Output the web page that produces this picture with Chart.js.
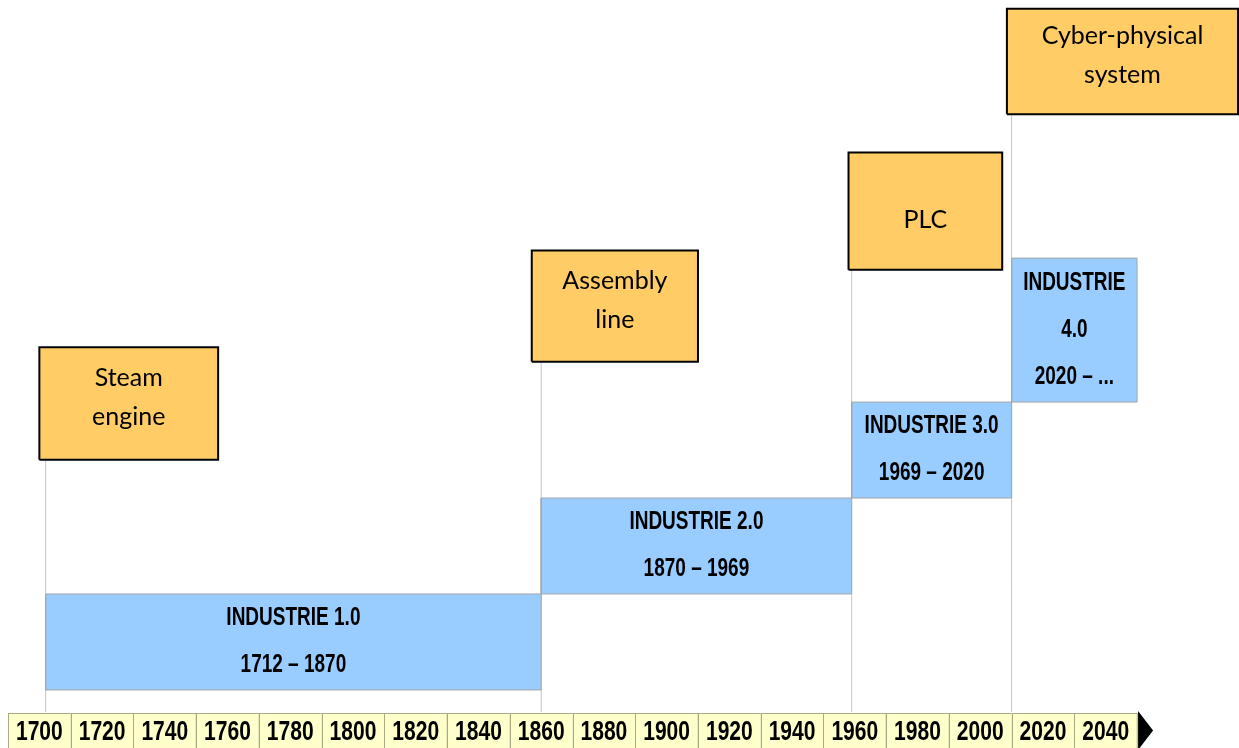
<!DOCTYPE html>
<html>
<head>
<meta charset="utf-8">
<script src="https://cdn.jsdelivr.net/npm/chart.js@4.4.1/dist/chart.umd.min.js"></script>
<style>
  html, body { margin: 0; padding: 0; background: #fff; }
</style>
</head>
<body>
<canvas id="chart" width="1239" height="748"></canvas>
<script>
// timeline axis (each box covers 20 years)
const yearTicks = [1700, 1720, 1740, 1760, 1780, 1800, 1820, 1840, 1860, 1880, 1900, 1920, 1940, 1960, 1980, 2000, 2020, 2040];
const tickStep = 20;

// industrial revolutions (blue steps)
const phaseLabels = [
    ['INDUSTRIE 1.0', '1712 – 1870'],
    ['INDUSTRIE 2.0', '1870 – 1969'],
    ['INDUSTRIE 3.0', '1969 – 2020'],
    ['INDUSTRIE', '4.0', '2020 – ...']
];
const phaseStart = [1712, 1870, 1969, 2020];
const phaseEnd = [1870, 1969, 2020, 2060];
const phaseLow = [0, 1, 2, 3];
const phaseHigh = [1, 2, 3, 4.5];

// key technologies (orange boxes)
const techLabels = [['Steam', 'engine'], ['Assembly', 'line'], ['PLC'], ['Cyber-physical', 'system']];
const techStart = [1710, 1867, 1968, 2018.5];
const techEnd = [1767, 1920, 2017, 2092.2];
const techLow = [2.4, 3.42, 4.38, 6.0];
const techHigh = [3.57, 4.58, 5.6, 7.1];

const yMin = -0.23;

const rect = (x0, x1, y0, y1) => [
    { x: x0, y: y0 }, { x: x1, y: y0 }, { x: x1, y: y1 }, { x: x0, y: y1 }, { x: x0, y: y0 }
];

const datasets = [];

// thin grey connectors from the axis up to each technology box
phaseStart.forEach((yr, i) => {
    datasets.push({
        data: [{ x: yr, y: yMin }, { x: yr, y: techLow[i] }],
        borderColor: '#c4c4c4',
        borderWidth: 1,
        fill: false,
        order: 3
    });
});

phaseStart.forEach((yr, i) => {
    datasets.push({
        data: rect(yr, phaseEnd[i], phaseLow[i], phaseHigh[i]),
        borderColor: '#a6a6a6',
        backgroundColor: '#99ccff',
        borderWidth: 1,
        fill: 'shape',
        order: 2
    });
});

techStart.forEach((yr, i) => {
    datasets.push({
        data: rect(yr, techEnd[i], techLow[i], techHigh[i]),
        borderColor: '#000000',
        backgroundColor: '#ffcc66',
        borderWidth: 2,
        fill: 'shape',
        clip: false,
        order: 1
    });
});

// condensed bold text (narrow look)
const narrowText = (ctx, text, x, y, size, squeeze) => {
    ctx.save();
    ctx.translate(x, y);
    ctx.scale(squeeze, 1);
    ctx.font = `bold ${size}px "Liberation Sans", Arial, sans-serif`;
    ctx.textAlign = 'center';
    ctx.textBaseline = 'middle';
    ctx.fillStyle = '#000';
    ctx.fillText(text, 0, 0);
    ctx.restore();
};

const boxText = {
    id: 'boxText',
    afterDatasetsDraw: (chart) => {
        const { ctx, scales: { x, y } } = chart;

        phaseLabels.forEach((lines, i) => {
            const cx = (x.getPixelForValue(phaseStart[i]) + x.getPixelForValue(phaseEnd[i])) / 2;
            const cy = (y.getPixelForValue(phaseLow[i]) + y.getPixelForValue(phaseHigh[i])) / 2;
            const gap = 47;
            lines.forEach((t, k) => {
                narrowText(ctx, t, cx, cy + (k - (lines.length - 1) / 2) * gap, 25, 0.76);
            });
        });

        ctx.save();
        ctx.font = '25px Lato, "Open Sans", sans-serif';
        ctx.textAlign = 'center';
        ctx.textBaseline = 'middle';
        ctx.fillStyle = '#000';
        techLabels.forEach((lines, i) => {
            const cx = (x.getPixelForValue(techStart[i]) + x.getPixelForValue(techEnd[i])) / 2;
            const cy = (y.getPixelForValue(techLow[i]) + y.getPixelForValue(techHigh[i])) / 2;
            const gap = 39;
            const shift = lines.length > 1 ? -6 : 9;
            lines.forEach((t, k) => {
                ctx.fillText(t, cx, cy + shift + (k - (lines.length - 1) / 2) * gap);
            });
        });
        ctx.restore();
    }
};

// yellow year strip with arrow head under the plot
const yearStrip = {
    id: 'yearStrip',
    afterDraw: (chart) => {
        const { ctx, chartArea, scales: { x } } = chart;
        const top = chartArea.bottom + 1;
        const bottom = chart.height + 2;
        const mid = (top + bottom - 2) / 2;

        ctx.save();
        yearTicks.forEach(yr => {
            const x0 = x.getPixelForValue(yr);
            const x1 = x.getPixelForValue(yr + tickStep);
            ctx.fillStyle = '#ffffcc';
            ctx.fillRect(x0, top, x1 - x0, bottom - top);
            ctx.strokeStyle = '#a9a982';
            ctx.lineWidth = 1;
            ctx.strokeRect(Math.round(x0) + 0.5, top + 0.5, x1 - x0, bottom - top);
            narrowText(ctx, String(yr), (x0 + x1) / 2, mid + 2, 27, 0.78);
        });

        const end = x.getPixelForValue(yearTicks[yearTicks.length - 1] + tickStep);
        ctx.beginPath();
        ctx.moveTo(end + 1, top - 2);
        ctx.lineTo(end + 16, mid);
        ctx.lineTo(end + 1, bottom);
        ctx.closePath();
        ctx.fillStyle = '#000';
        ctx.fill();
        ctx.restore();
    }
};

new Chart(document.getElementById('chart').getContext('2d'), {
    type: 'scatter',
    data: { datasets },
    options: {
        responsive: false,
        animation: false,
        showLine: true,
        layout: { padding: { left: 8, right: 0, top: 0, bottom: 36 } },
        elements: {
            line: { tension: 0 },
            point: { radius: 0, hoverRadius: 0 }
        },
        scales: {
            x: { type: 'linear', min: 1700, max: 2092.5, display: false },
            y: { type: 'linear', min: yMin, max: 7.19, display: false }
        },
        plugins: {
            legend: { display: false },
            tooltip: { enabled: false }
        }
    },
    plugins: [boxText, yearStrip]
});
</script>
</body>
</html>
